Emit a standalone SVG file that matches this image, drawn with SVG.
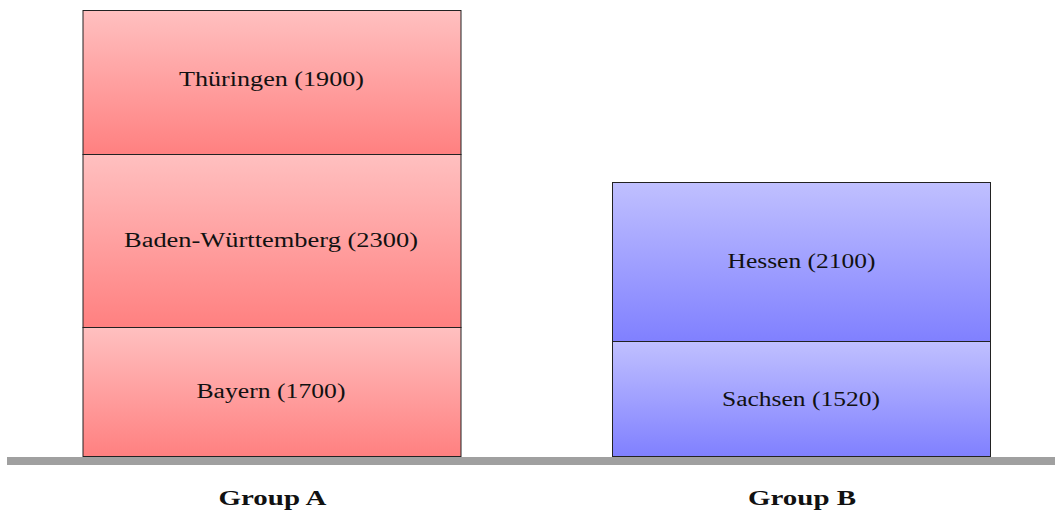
<svg xmlns="http://www.w3.org/2000/svg" width="1055" height="513" viewBox="0 0 1055 513">
  <defs>
    <linearGradient id="gRed" x1="0" y1="0" x2="0" y2="1">
      <stop offset="0" stop-color="#ffc0c0"/>
      <stop offset="1" stop-color="#ff8080"/>
    </linearGradient>
    <linearGradient id="gBlue" x1="0" y1="0" x2="0" y2="1">
      <stop offset="0" stop-color="#c0c0ff"/>
      <stop offset="1" stop-color="#8080ff"/>
    </linearGradient>
  </defs>
  <style>
    .box { stroke: #222222; stroke-width: 1; }
    .red { fill: url(#gRed); }
    .blue { fill: url(#gBlue); }
    .lbl { font-family: "Liberation Serif", "DejaVu Serif", serif; font-size: 20px; fill: #111111; text-anchor: middle; }
    .grp { font-family: "Liberation Serif", "DejaVu Serif", serif; font-size: 22px; font-weight: bold; fill: #111111; text-anchor: middle; }
  </style>
  <rect width="1055" height="513" fill="#ffffff"/>
  <g id="connectors"></g>
  <g id="baseline">
    <rect x="7" y="457" width="1048" height="8" fill="#a0a0a0"/>
  </g>
  <g id="bayern">
    <rect class="box red" x="83" y="327.5" width="378" height="129"/>
    <text class="lbl" x="271" y="398" textLength="149" lengthAdjust="spacingAndGlyphs">Bayern (1700)</text>
  </g>
  <g id="baden-wuerttemberg">
    <rect class="box red" x="83" y="154.5" width="378" height="173"/>
    <text class="lbl" x="271" y="247" textLength="294" lengthAdjust="spacingAndGlyphs">Baden-Württemberg (2300)</text>
  </g>
  <g id="thueringen">
    <rect class="box red" x="83" y="10.5" width="378" height="144"/>
    <text class="lbl" x="271.5" y="86" textLength="185" lengthAdjust="spacingAndGlyphs">Thüringen (1900)</text>
  </g>
  <g id="sachsen">
    <rect class="box blue" x="612.5" y="341.5" width="378" height="115"/>
    <text class="lbl" x="801" y="406" textLength="158" lengthAdjust="spacingAndGlyphs">Sachsen (1520)</text>
  </g>
  <g id="hessen">
    <rect class="box blue" x="612.5" y="182.5" width="378" height="159"/>
    <text class="lbl" x="801.5" y="268" textLength="148" lengthAdjust="spacingAndGlyphs">Hessen (2100)</text>
  </g>
  <g id="group-a">
    <text class="grp" x="272.5" y="505" textLength="108" lengthAdjust="spacingAndGlyphs">Group A</text>
  </g>
  <g id="group-b">
    <text class="grp" x="802" y="505" textLength="108" lengthAdjust="spacingAndGlyphs">Group B</text>
  </g>
</svg>
